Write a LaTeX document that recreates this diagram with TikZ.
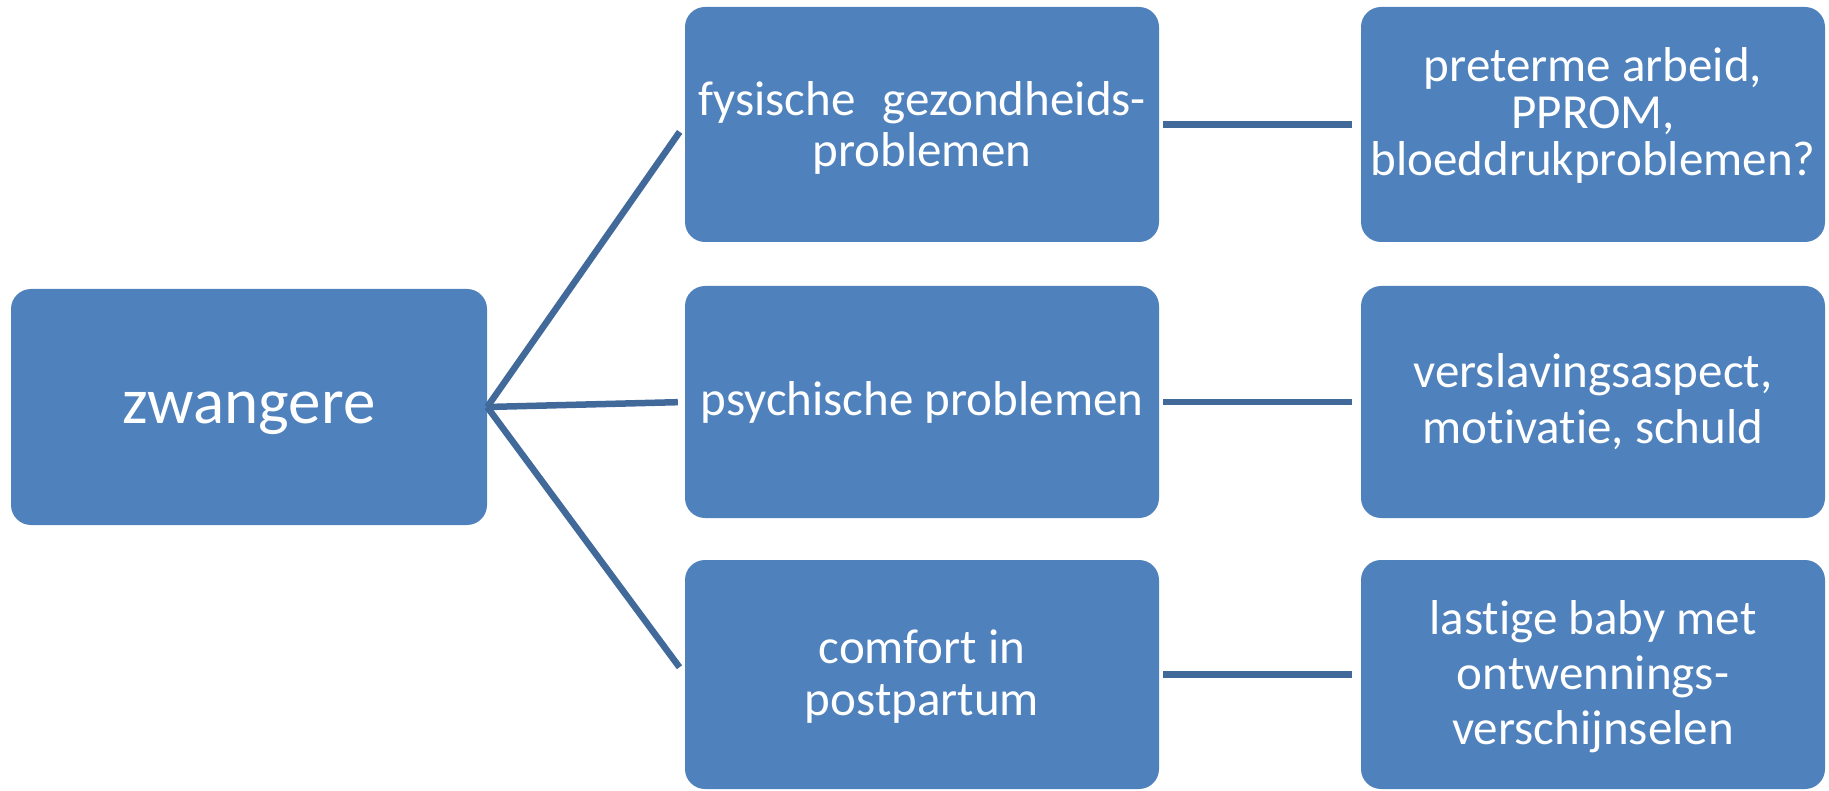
\documentclass[tikz,border=0pt]{standalone}
\usepackage{fontspec}
\setmainfont{Carlito}[Ligatures=NoCommon]
\definecolor{boxblue}{RGB}{79,129,189}
\definecolor{lineblue}{RGB}{65,106,155}
\tikzset{
  box/.style={rectangle, rounded corners=20pt, fill=boxblue, draw=none, inner sep=0pt},
  txt/.style={text=white, align=center, inner sep=0pt},
  conn/.style={draw=lineblue, line width=6.5pt},
}
\newcommand{\fs}[1]{\fontsize{49}{#1}\selectfont}
\begin{document}
\begin{tikzpicture}[x=1pt,y=-1pt]
\useasboundingbox (0,0) rectangle (1829,791);
\node[box, minimum width=476pt, minimum height=236pt] (z) at (249,407) {};
\node[box, minimum width=474pt, minimum height=235pt] (m1) at (922,124.5) {};
\node[box, minimum width=474pt, minimum height=232pt] (m2) at (922,402) {};
\node[box, minimum width=474pt, minimum height=229pt] (m3) at (922,674.5) {};
\node[box, minimum width=464pt, minimum height=235pt] (r1) at (1593,124.5) {};
\node[box, minimum width=464pt, minimum height=232pt] (r2) at (1593,402) {};
\node[box, minimum width=464pt, minimum height=229pt] (r3) at (1593,674.5) {};
\node[txt, font=\fontsize{65}{66}\selectfont] (zt) at ([yshift=-6pt]z.center) {zwangere};
\node[txt, font=\fs{51}] (m1t) at ([yshift=-3pt]m1.center) {fysische\hspace{16pt} gezondheids-\\problemen};
\node[txt, font=\fs{50}] (m2t) at (m2.center) {psychische problemen};
\node[txt, font=\fs{52}] (m3t) at ([yshift=-2pt]m3.center) {comfort in\\postpartum};
\node[txt, font=\fs{47}] (r1t) at ([yshift=9pt]r1.center) {preterme arbeid,\\PPROM,\\bloeddrukproblemen?};
\node[txt, font=\fs{56}] (r2t) at (r2.center) {verslavingsaspect,\\motivatie, schuld};
\node[txt, font=\fs{55}] (r3t) at ([yshift=-2pt]r3.center) {lastige baby met\\ontwennings-\\verschijnselen};
\draw[conn, shorten >=9pt] (z.east) -- (m1.west);
\draw[conn, shorten >=7pt] (z.east) -- (m2.west);
\draw[conn, shorten >=9pt] (z.east) -- (m3.west);
\draw[conn, shorten <=4pt, shorten >=9pt] (m1.east) -- (r1.west);
\draw[conn, shorten <=4pt, shorten >=9pt] (m2.east) -- (r2.west);
\draw[conn, shorten <=4pt, shorten >=9pt] (m3.east) -- (r3.west);
\end{tikzpicture}
\end{document}
